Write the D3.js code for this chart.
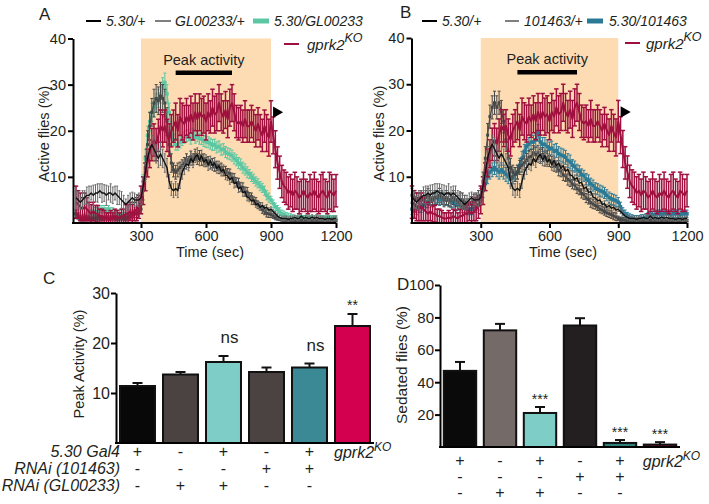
<!DOCTYPE html>
<html><head><meta charset="utf-8">
<script src="https://cdn.jsdelivr.net/npm/d3@7"></script>
<style>
body{margin:0;background:#fff;}
svg{display:block;font-family:"Liberation Sans",Arial,sans-serif;}
</style></head><body>
<svg id="chart" width="709" height="504"></svg>
<script>
// ---------- DATA ----------
const TIME = d3.range(0, 1201, 10);           // sampling grid (s)
const SHADE = [300, 900];                     // ethanol exposure window
const PEAK_WIN = [460, 720];                  // peak activity window
const ARROW = [925, 24];                      // arrowhead (time, %)
const X_TICKS = [300, 600, 900, 1200];
const Y_TICKS_T = [10, 20, 30, 40];

const mean530 = [
 5.5,5,4.5,5,5.5,6,6,6.5,6,6.5,
 6.5,7,6.5,6.5,6,6.5,6.5,6,6.5,6,
 5.5,5,4.5,4,4.5,5,5.5,5,5,5,
 5.5,8,11,14,16,17,16,15,14,15,
 14,13,12,9,7.5,7,7.5,7,9,11,
 12,12.8,12.5,14,13.2,14.3,14.8,13.6,14.6,13.2,
 13.8,12.6,13.5,12.4,13,11.8,12.4,11.2,11.6,10.4,
 10.2,9.4,9.8,8.6,8.8,7.4,7.8,6.6,6.8,5.6,
 5.4,4.8,5,4,4.2,3.4,3.8,3.2,3.4,2.8,
 3,2.5,2,1.5,1.2,1,1,1,0.8,1,
 1,1.2,1,1,1.5,1,1.2,1,1,1.3,
 1,1.2,1,1,1,0.8,1,1,0.8,1,
 1];
const err530 = [
 1.5,1.8,1.5,2,1.5,1.8,2,1.5,2.2,1.8,
 2,1.5,2,1.8,2.2,1.5,2,1.8,1.5,2,
 1.5,1.8,1.5,1.2,1.5,1.5,1.2,1.5,1.2,1.5,
 1.5,2,2,2.5,2,2,2.5,2,2,2.5,
 2,2,2,1.5,1.5,1.5,1.5,1.5,1.5,1.5,
 1.5,1.2,1.2,1.5,1.2,1.2,1.5,1.2,1.2,1,
 1,1.2,1,1,1.2,1,1,1,1,1,
 1,1,0.8,1,0.8,0.8,1,0.8,0.8,0.8,
 0.8,0.8,0.8,0.6,0.6,0.6,0.6,0.6,0.6,0.5,
 0.5,0.5,0.5,0.5,0.5,0.5,0.5,0.5,0.5,0.5,
 0.5,0.5,0.5,0.5,0.5,0.5,0.5,0.5,0.5,0.5,
 0.5,0.5,0.5,0.5,0.5,0.5,0.5,0.5,0.5,0.5,
 0.5];

const meanGL = [
 2,1.5,1,1,1.2,1,1,0.8,1,1,
 1.2,1,1,1,1.2,1,1,1.2,1,1,
 1,1.2,1,1,1.2,1.5,1.5,2,2,2.5,
 3,7,12,17,21,24,26,27,26.5,27.5,
 27,26,22,17,13,11.5,11,11.5,12,12.5,
 13,13.8,13.2,14.4,13.8,14.8,13.9,14.5,13.7,13.8,
 13.2,13.4,12.7,13,12.2,12.4,11.7,12,11.2,11.3,
 10.8,10.7,9.8,9.7,8.8,8.7,7.8,7.7,6.8,6.7,
 5.8,5.7,4.8,4.7,3.9,3.6,2.9,2.6,2.1,2,
 1.8,1.5,1.2,1,0.8,0.7,0.6,0.5,0.5,0.5,
 0.5,0.5,0.5,0.5,0.5,0.5,0.5,0.5,0.5,0.5,
 0.5,0.5,0.5,0.5,0.5,0.5,0.5,0.5,0.5,0.5,
 0.5];
const errGL = [
 0.8,0.6,0.5,0.5,0.5,0.5,0.5,0.5,0.5,0.5,
 0.5,0.5,0.5,0.5,0.5,0.5,0.5,0.5,0.5,0.5,
 0.5,0.5,0.5,0.5,0.5,0.6,0.6,0.8,0.8,1,
 1,2,2.5,3,3,3,3,3,3,3,
 3,3,3,2.5,2,1.5,1.5,1.5,1.2,1.2,
 1.2,1.2,1.2,1.2,1.2,1.2,1.2,1.2,1.2,1.2,
 1,1,1,1,1,1,1,1,1,1,
 1,1,1,1,1,1,1,1,1,1,
 0.8,0.8,0.8,0.8,0.8,0.8,0.8,0.8,0.8,0.8,
 0.6,0.5,0.5,0.4,0.3,0.3,0.3,0.3,0.3,0.3,
 0.3,0.3,0.3,0.3,0.3,0.3,0.3,0.3,0.3,0.3,
 0.3,0.3,0.3,0.3,0.3,0.3,0.3,0.3,0.3,0.3,
 0.3];

const mean530GL = [
 2,1.5,1,1,1.2,1.5,1.5,2,2,2.5,
 2.5,3,3,3,2.5,3,2.5,2.5,2,2,
 2,2,1.5,1.5,1.5,2,2,2.5,2.5,3,
 4,9,14,19,22,24,25,26,27,28,
 29.5,30.5,28,24,20,18,17,17,17.5,18,
 18.5,18.8,19,18.3,19.2,18.5,18.8,18.3,18.2,17.8,
 17.6,17.5,17.2,16.9,17,16.4,16.6,15.9,16,15.4,
 15.1,14.9,14.6,14,13.6,13,12.7,12,11.6,11,
 10.6,10,9.6,9,8.6,8,7.6,7,6,5.5,
 5,4.2,3.5,3,2.5,2,1.8,1.5,1.3,1.2,
 1.2,1,1,1.2,1,1,1,1.2,1,1,
 1,1.2,1,1,1,1,1.2,1,1,1,
 1];
const err530GL = [
 0.8,0.8,0.8,0.8,0.8,0.8,0.8,0.8,0.8,0.8,
 0.8,0.8,0.8,0.8,0.8,0.8,0.8,0.8,0.8,0.8,
 0.8,0.8,0.8,0.8,0.8,0.8,0.8,0.8,0.8,0.8,
 1,1.5,2,2,2,2,2,2,2,2,
 2,2,2,2,1.5,1.2,1.2,1.2,1.2,1.2,
 1.2,1.2,1.2,1.2,1.2,1.2,1.2,1.2,1.2,1.2,
 1.2,1.2,1.2,1.2,1.2,1.2,1.2,1.2,1.2,1.2,
 1.2,1.2,1.2,1.2,1.2,1.2,1.2,1.2,1.2,1.2,
 1,1,1,1,1,1,1,1,1,1,
 0.8,0.8,0.8,0.8,0.8,0.8,0.8,0.8,0.8,0.8,
 0.6,0.6,0.6,0.6,0.6,0.6,0.6,0.6,0.6,0.6,
 0.6,0.6,0.6,0.6,0.6,0.6,0.6,0.6,0.6,0.6,
 0.6];

const meanKO = [
 4.5,4,3.5,3,3.5,3,2.5,2,2.5,2,
 2,1.5,1.5,1.2,1,1,1.2,1,1.5,1.2,
 1,1.5,1.5,2,2,2.5,2,2.5,3,3.5,
 5,7,10,13,15,17,18,17,19,21,
 20,21,19,18,20,21,22,20,23,22,
 21.5,23,22,23.5,22,24,22.5,24,23,23.5,
 22,24,23,25,23.5,24,26,24,23,24.5,
 22.5,25,26,24,22,21.5,22,21,22.5,21,
 21,22,21,20,21.5,20,19,21,19.5,18.5,
 22,19,16,13,11,9,8,7.5,6.5,7,
 6,7,6.5,5.5,6,7,6,5.5,6.5,6,
 7,6,5.5,6.5,7,6,5.5,7,6.5,6,
 7];
const errKO = [
 3.5,3,3,2.5,3,2.5,2,2,2,1.8,
 1.8,1.5,1.5,1.5,1.2,1.2,1.5,1.2,1.5,1.5,
 1.2,1.5,1.5,2,2,2,2,2,2.5,2.5,
 3,3,3,3,3,3.5,3.5,3.5,3.5,3.5,
 3.5,3.5,3.5,3.5,3.5,3.5,4,3.5,4,4,
 4,4,3.5,4,4,4,3.5,4,4,4,
 4,4,3.5,4,4,4,4,4,3.5,4,
 4,4,4,4,3.5,3.5,3.5,3.5,4,3.5,
 3.5,3.5,3.5,3.5,3.5,3.5,3.5,3.5,4,4,
 4.5,4,4,3.5,3.5,3.5,3.5,3.5,3.5,3.5,
 3.5,4,3.5,3.5,3.5,4,3.5,3.5,4,3.5,
 4,3.5,3.5,4,4,3.5,3.5,4,4,3.5,
 3.5];

const mean101 = [
 6,5.5,5,5,5.5,5,5.5,6,5.5,5,
 5.5,5.5,6,5.5,5,5.5,5,5,5.5,5,
 4.5,5,5,4.5,4,4,4.5,5,5,5.5,
 6,9,14,19,23,25,26,25,26,24,
 22,18,14,12,11,10.5,11,12,12.5,13,
 13.5,14.2,14.4,15.2,14.8,15.3,14.4,14.8,13.8,14.1,
 13.4,13.2,12.4,12.2,11.4,11.2,10.4,10.2,9.4,9.1,
 8.4,8.2,7.4,7.1,6.4,6.1,5.4,5.1,4.4,4.1,
 3.8,3.5,3,2.8,2.5,2.2,2,1.8,1.5,1.3,
 1,0.8,0.7,0.6,0.5,0.5,0.5,0.5,0.5,0.5,
 0.5,0.5,0.5,0.5,0.5,0.5,0.5,0.5,0.5,0.5,
 0.5,0.5,0.5,0.5,0.5,0.5,0.5,0.5,0.5,0.5,
 0.5];
const err101 = [
 1.5,1.5,1.5,1.5,1.5,1.5,1.5,1.5,1.5,1.5,
 1.5,1.5,1.5,1.5,1.5,1.5,1.5,1.5,1.5,1.5,
 1.5,1.5,1.5,1.5,1.2,1.2,1.2,1.2,1.5,1.5,
 1.5,2,2.5,2.5,2.5,2.5,2.5,2.5,2.5,2.5,
 2.5,2.5,2,2,1.5,1.5,1.5,1.5,1.5,1.5,
 1.5,1.5,1.5,1.5,1.5,1.5,1.5,1.5,1.5,1.5,
 1.2,1.2,1.2,1.2,1.2,1.2,1.2,1.2,1.2,1.2,
 1,1,1,1,1,1,1,1,1,1,
 0.8,0.8,0.8,0.8,0.8,0.8,0.8,0.8,0.8,0.8,
 0.5,0.5,0.5,0.5,0.5,0.5,0.5,0.5,0.5,0.5,
 0.3,0.3,0.3,0.3,0.3,0.3,0.3,0.3,0.3,0.3,
 0.3,0.3,0.3,0.3,0.3,0.3,0.3,0.3,0.3,0.3,
 0.3];

const mean530_101 = [
 3,2.5,3,3.5,3.5,4,4.5,4.5,5,5,
 5.5,5.5,5,5.5,5,5,5,4.5,4.5,4,
 4,4,3.5,3.5,3,3,3,3.5,3.5,4,
 5,7,8.5,10,11,11.5,12,11.5,11,11.5,
 11,10.5,10,9.5,10,10.5,11,12.5,14,15.5,
 16.5,17,17.5,17.5,18,19.5,17.5,17,17,16.5,
 16,16.2,15.5,15.7,15,14.7,14.5,14.2,13.5,13.2,
 12.5,12.2,11.5,11.2,10.5,10.2,9.5,9.2,8.5,8.1,
 7.5,7.3,7,6.8,6.5,6,5.5,5.2,5,4.8,
 4.5,3.5,2.5,2,1.5,1.2,1,0.8,0.8,0.8,
 1,1,1.2,1.5,1.5,1.8,1.8,2,2,1.8,
 2,2,2,1.8,2,2,2,1.8,2,2,
 2];
const err530_101 = [
 1.2,1.2,1.2,1.2,1.2,1.2,1.2,1.2,1.2,1.2,
 1.2,1.2,1.2,1.2,1.2,1.2,1.2,1.2,1.2,1.2,
 1.2,1.2,1.2,1.2,1.2,1.2,1.2,1.2,1.2,1.2,
 1.2,1.5,1.5,1.5,1.5,1.5,1.5,1.5,1.5,1.5,
 1.5,1.5,1.5,1.5,1.5,1.5,1.5,1.5,1.5,1.5,
 1.5,1.5,1.5,1.5,1.5,1.8,1.5,1.5,1.5,1.5,
 1.5,1.5,1.5,1.5,1.5,1.5,1.5,1.5,1.5,1.5,
 1.2,1.2,1.2,1.2,1.2,1.2,1.2,1.2,1.2,1.2,
 1.2,1.2,1.2,1.2,1.2,1.2,1.2,1.2,1.2,1.2,
 1,1,0.8,0.8,0.8,0.8,0.8,0.8,0.8,0.8,
 0.8,0.8,0.8,0.8,0.8,0.8,0.8,0.8,0.8,0.8,
 0.8,0.8,0.8,0.8,0.8,0.8,0.8,0.8,0.8,0.8,
 0.8];

// Bar panels
const GENOTYPES = ["5.30/+", "GL00233/+", "5.30/GL00233", "101463/+", "5.30/101463", "gprk2KO"];
const peakMean = [11.4, 13.7, 16.2, 14.2, 15.1, 23.4];
const peakErr  = [0.6, 0.5, 1.2, 0.9, 0.8, 2.4];
const peakSig  = ["", "", "ns", "", "ns", "**"];
const sedMean  = [47, 72, 21, 75, 2.5, 1.5];
const sedErr   = [5.5, 4, 3.7, 4.5, 1.8, 1.5];
const sedSig   = ["", "", "***", "", "***", "***"];
const ROW_LABELS = ["5.30 Gal4", "RNAi (101463)", "RNAi (GL00233)"];
const rowGal4  = ["+", "-", "+", "-", "+", ""];
const row101   = ["-", "-", "-", "+", "+", ""];
const rowGL    = ["-", "+", "+", "-", "-", ""];

// ---------- STYLE ----------
const C = {
  black: "#111111", blackErr: "#6a6a6a",
  gray: "#474747", teal: "#5cc8a3", crimson: "#a0103f", blue: "#2a7a96",
  shade: "#fddcb4", ink: "#231f20"
};
const peakColors = ["#080808", "#4a4341", "#7fcdc7", "#4a4341", "#3a8995", "#d2004e"];
const sedColors  = ["#0a0a0a", "#746a68", "#7fcdc7", "#231f20", "#2d7f7a", "#7a1030"];
const FONT = '"Liberation Sans", Arial, sans-serif';

const svg = d3.select("#chart");

function supText(g, x, y, main, sup, size, supSize, supDy, anchor) {
  const t = g.append("text").attr("x", x).attr("y", y)
    .attr("font-size", size).attr("font-style", "italic").attr("fill", C.ink)
    .attr("text-anchor", anchor || "start");
  t.append("tspan").text(main);
  t.append("tspan").attr("dy", supDy).attr("font-size", supSize).text(sup);
  return t;
}

function drawTimePanel(cfg) {
  const x = d3.scaleLinear().domain([0, 1200]).range(cfg.xr);
  const y = d3.scaleLinear().domain([0, 40]).range(cfg.yr);
  const g = svg.append("g");

  g.append("rect").attr("x", x(SHADE[0])).attr("y", y(40))
    .attr("width", x(SHADE[1]) - x(SHADE[0])).attr("height", y(0) - y(40))
    .attr("fill", C.shade);

  g.append("text").attr("x", x(d3.mean(PEAK_WIN))).attr("y", y(34.3))
    .attr("text-anchor", "middle").attr("font-size", 14.5).attr("fill", C.ink)
    .text("Peak activity");
  g.append("line").attr("x1", x(PEAK_WIN[0])).attr("x2", x(PEAK_WIN[1]))
    .attr("y1", y(32.6)).attr("y2", y(32.6)).attr("stroke", "#000").attr("stroke-width", 4.5);

  cfg.series.forEach(s => {
    const pts = TIME.map((t, i) => ({ t, m: s.mean[i], e: s.err[i] }));
    const sg = g.append("g");
    const lo = d => y(Math.max(0, d.m - d.e));
    const hi = d => y(d.m + d.e);
    sg.selectAll("line.eb").data(pts).join("line")
      .attr("x1", d => x(d.t)).attr("x2", d => x(d.t))
      .attr("y1", lo).attr("y2", hi)
      .attr("stroke", s.errColor).attr("stroke-width", s.ebw);
    [hi, lo].forEach(fy => {
      sg.selectAll(null).data(pts).join("line")
        .attr("x1", d => x(d.t) - s.cap / 2).attr("x2", d => x(d.t) + s.cap / 2)
        .attr("y1", fy).attr("y2", fy)
        .attr("stroke", s.errColor).attr("stroke-width", s.ebw);
    });
    sg.append("path").datum(pts)
      .attr("d", d3.line().x(d => x(d.t)).y(d => y(d.m)))
      .attr("fill", "none").attr("stroke", s.color).attr("stroke-width", s.lw)
      .attr("stroke-linejoin", "round");
    if (s.marker) {
      sg.selectAll("rect").data(pts).join("rect")
        .attr("x", d => x(d.t) - s.marker / 2).attr("y", d => y(d.m) - s.marker / 2)
        .attr("width", s.marker).attr("height", s.marker).attr("fill", s.color);
    }
  });

  // arrowhead
  g.append("path")
    .attr("d", d3.symbol().type(d3.symbolTriangle).size(58)())
    .attr("transform", `translate(${x(ARROW[0])},${y(ARROW[1])}) rotate(90)`)
    .attr("fill", "#000");

  // axes
  const yAx = g.append("g").attr("transform", `translate(${cfg.axisX},0)`)
    .call(d3.axisLeft(y).tickValues(Y_TICKS_T).tickSize(5).tickSizeOuter(0).tickPadding(2)
      .tickFormat(d3.format("d")));
  const xAx = g.append("g").attr("transform", `translate(0,${y(0)})`)
    .call(d3.axisBottom(x).tickValues(X_TICKS).tickSize(5).tickSizeOuter(0).tickPadding(3)
      .tickFormat(d3.format("d")));
  xAx.select(".domain").remove();
  g.append("line").attr("x1", cfg.axisX - 1).attr("x2", x(1200)).attr("y1", y(0)).attr("y2", y(0))
    .attr("stroke", "#000").attr("stroke-width", 2);
  [yAx, xAx].forEach(a => {
    a.selectAll("path,line").attr("stroke", "#000").attr("stroke-width", 2);
    a.selectAll("text").attr("font-size", 14.5).attr("fill", C.ink).attr("font-family", FONT);
  });

  g.append("text").attr("transform", `translate(${cfg.yTitleX},${(y(0) + y(40)) / 2 + 3}) rotate(-90)`)
    .attr("text-anchor", "middle").attr("font-size", 14.5).attr("fill", C.ink).text("Active flies (%)");
  g.append("text").attr("x", cfg.xTitleX).attr("y", 257)
    .attr("text-anchor", "middle").attr("font-size", 14.5).attr("fill", C.ink).text("Time (sec)");
  g.append("text").attr("x", cfg.letter[0]).attr("y", cfg.letter[1])
    .attr("font-size", 17).attr("fill", C.ink).text(cfg.letterText);

  // legend
  cfg.legend.forEach(l => {
    g.append("line").attr("x1", l.x1).attr("x2", l.x2).attr("y1", l.y).attr("y2", l.y)
      .attr("stroke", l.color).attr("stroke-width", l.w);
    if (l.sup) {
      supText(g, l.tx, l.y + 6, l.text, l.sup, 15, 12.5, -8);
    } else {
      g.append("text").attr("x", l.tx).attr("y", l.y + 5).attr("font-size", 14)
        .attr("font-style", "italic").attr("fill", C.ink).text(l.text);
    }
  });
}

drawTimePanel({
  xr: [76, 336], yr: [223, 38.5], axisX: 73, yTitleX: 49, xTitleX: 210,
  letter: [39, 20], letterText: "A",
  series: [
    { mean: mean530GL, err: err530GL, color: C.teal, errColor: C.teal, lw: 1.5, ebw: 1, cap: 3, marker: 3.5 },
    { mean: meanGL, err: errGL, color: C.gray, errColor: C.gray, lw: 1.2, ebw: 1, cap: 3, marker: 3 },
    { mean: meanKO, err: errKO, color: C.crimson, errColor: C.crimson, lw: 2, ebw: 1.5, cap: 4.5, marker: 0 },
    { mean: mean530, err: err530, color: C.black, errColor: C.blackErr, lw: 1.4, ebw: 1, cap: 2, marker: 0 }
  ],
  legend: [
    { x1: 86, x2: 101, y: 21, color: "#000", w: 2, tx: 106, text: "5.30/+" },
    { x1: 155, x2: 171, y: 21, color: "#555", w: 1.5, tx: 175, text: "GL00233/+" },
    { x1: 253, x2: 269, y: 21, color: C.teal, w: 5, tx: 274, text: "5.30/GL00233" },
    { x1: 284, x2: 299, y: 44, color: C.crimson, w: 2, tx: 307, text: "gprk2", sup: "KO" }
  ]
});

drawTimePanel({
  xr: [412, 687], yr: [223, 38], axisX: 411.5, yTitleX: 384, xTitleX: 563,
  letter: [400, 18], letterText: "B",
  series: [
    { mean: mean530_101, err: err530_101, color: C.blue, errColor: C.blue, lw: 1.5, ebw: 1, cap: 3, marker: 3.5 },
    { mean: mean101, err: err101, color: C.gray, errColor: C.gray, lw: 1.2, ebw: 1, cap: 3, marker: 3 },
    { mean: meanKO, err: errKO, color: C.crimson, errColor: C.crimson, lw: 2, ebw: 1.5, cap: 4.5, marker: 0 },
    { mean: mean530, err: err530, color: C.black, errColor: C.blackErr, lw: 1.4, ebw: 1, cap: 2, marker: 0 }
  ],
  legend: [
    { x1: 422, x2: 437, y: 21, color: "#000", w: 2, tx: 442, text: "5.30/+" },
    { x1: 505, x2: 519, y: 21, color: "#555", w: 1.5, tx: 524, text: "101463/+" },
    { x1: 587, x2: 603, y: 21, color: C.blue, w: 5, tx: 609, text: "5.30/101463" },
    { x1: 625, x2: 640, y: 43, color: C.crimson, w: 2, tx: 646, text: "gprk2", sup: "KO" }
  ]
});

function drawBarPanel(cfg) {
  const x = d3.scaleBand().domain(d3.range(GENOTYPES.length)).range(cfg.xr)
    .paddingInner(0.14).paddingOuter(0.07);
  const y = d3.scaleLinear().domain([0, cfg.ymax]).range(cfg.yr);
  const g = svg.append("g");
  const data = cfg.mean.map((m, i) => ({ i, m, e: cfg.err[i], sig: cfg.sig[i] }));

  // error bars (upper)
  g.selectAll("line.eb").data(data).join("line")
    .attr("x1", d => x(d.i) + x.bandwidth() / 2).attr("x2", d => x(d.i) + x.bandwidth() / 2)
    .attr("y1", d => y(d.m)).attr("y2", d => y(d.m + d.e))
    .attr("stroke", "#111").attr("stroke-width", 2);
  g.selectAll("line.cap").data(data).join("line")
    .attr("x1", d => x(d.i) + x.bandwidth() / 2 - 5).attr("x2", d => x(d.i) + x.bandwidth() / 2 + 5)
    .attr("y1", d => y(d.m + d.e)).attr("y2", d => y(d.m + d.e))
    .attr("stroke", "#111").attr("stroke-width", 2);
  g.selectAll("rect").data(data).join("rect")
    .attr("x", d => x(d.i) + 1).attr("width", x.bandwidth() - 2)
    .attr("y", d => y(d.m)).attr("height", d => y(0) - y(d.m))
    .attr("fill", d => cfg.colors[d.i]).attr("stroke", "#111").attr("stroke-width", 2);
  g.selectAll("text.sig").data(data.filter(d => d.sig)).join("text")
    .attr("x", d => x(d.i) + x.bandwidth() / 2 + (d.sig === "ns" ? cfg.nsDx : 0))
    .attr("y", d => y(d.m + d.e) - (d.sig === "ns" ? cfg.nsGap : cfg.starGap))
    .attr("text-anchor", "middle")
    .attr("font-size", d => d.sig === "ns" ? 17 : 14).attr("fill", C.ink)
    .text(d => d.sig);

  const yAx = g.append("g").attr("transform", `translate(${cfg.xr[0]},0)`)
    .call(d3.axisLeft(y).tickValues(cfg.ticks).tickSize(5).tickSizeOuter(0).tickPadding(1)
      .tickFormat(d3.format("d")));
  yAx.selectAll("path,line").attr("stroke", "#000").attr("stroke-width", 2);
  yAx.selectAll("text").attr("font-size", cfg.tickFont).attr("fill", C.ink).attr("font-family", FONT);
  g.append("line").attr("x1", cfg.xr[0] - 1).attr("x2", cfg.xr[1]).attr("y1", y(0)).attr("y2", y(0))
    .attr("stroke", "#000").attr("stroke-width", 2);

  g.append("text").attr("transform", `translate(${cfg.yTitleX},${cfg.yTitleY}) rotate(-90)`)
    .attr("text-anchor", "middle").attr("font-size", cfg.titleFont).attr("fill", C.ink).text(cfg.yTitle);
  g.append("text").attr("x", cfg.letter[0]).attr("y", cfg.letter[1])
    .attr("font-size", 17).attr("fill", C.ink).text(cfg.letterText);

  // genotype table
  [rowGal4, row101, rowGL].forEach((row, r) => {
    g.selectAll(null).data(row.map((s, i) => ({ s, i })).filter(d => d.s)).join("text")
      .attr("x", d => x(d.i) + x.bandwidth() / 2).attr("y", cfg.rows[r])
      .attr("text-anchor", "middle").attr("font-size", 16).attr("fill", C.ink)
      .text(d => d.s);
  });
  supText(g, x(GENOTYPES.length - 1), cfg.rows[0] + 1, "gprk2", "KO", 16, 12, -7);
  if (cfg.rowLabels) {
    ROW_LABELS.forEach((t, r) => {
      g.append("text").attr("x", cfg.rowLabelX).attr("y", cfg.rows[r])
        .attr("text-anchor", "end").attr("font-size", 16).attr("font-style", "italic")
        .attr("fill", C.ink).text(t);
    });
  }
}

drawBarPanel({
  xr: [116, 374], yr: [443, 293], ymax: 30, ticks: [10, 20, 30],
  mean: peakMean, err: peakErr, sig: peakSig, colors: peakColors,
  yTitle: "Peak Activity (%)", yTitleX: 84, yTitleY: 364, titleFont: 14.5, tickFont: 16,
  letter: [43, 284], letterText: "C", nsGap: 13, nsDx: 6, starGap: 4,
  rows: [457, 474, 491], rowLabels: true, rowLabelX: 120
});

drawBarPanel({
  xr: [440, 680], yr: [447, 285], ymax: 100, ticks: [20, 40, 60, 80, 100],
  mean: sedMean, err: sedErr, sig: sedSig, colors: sedColors,
  yTitle: "Sedated flies (%)", yTitleX: 407, yTitleY: 365, titleFont: 15.5, tickFont: 15,
  letter: [397, 290], letterText: "D", nsGap: 13, nsDx: 0, starGap: 3,
  rows: [466, 482, 498], rowLabels: false
});
</script>
</body></html>
